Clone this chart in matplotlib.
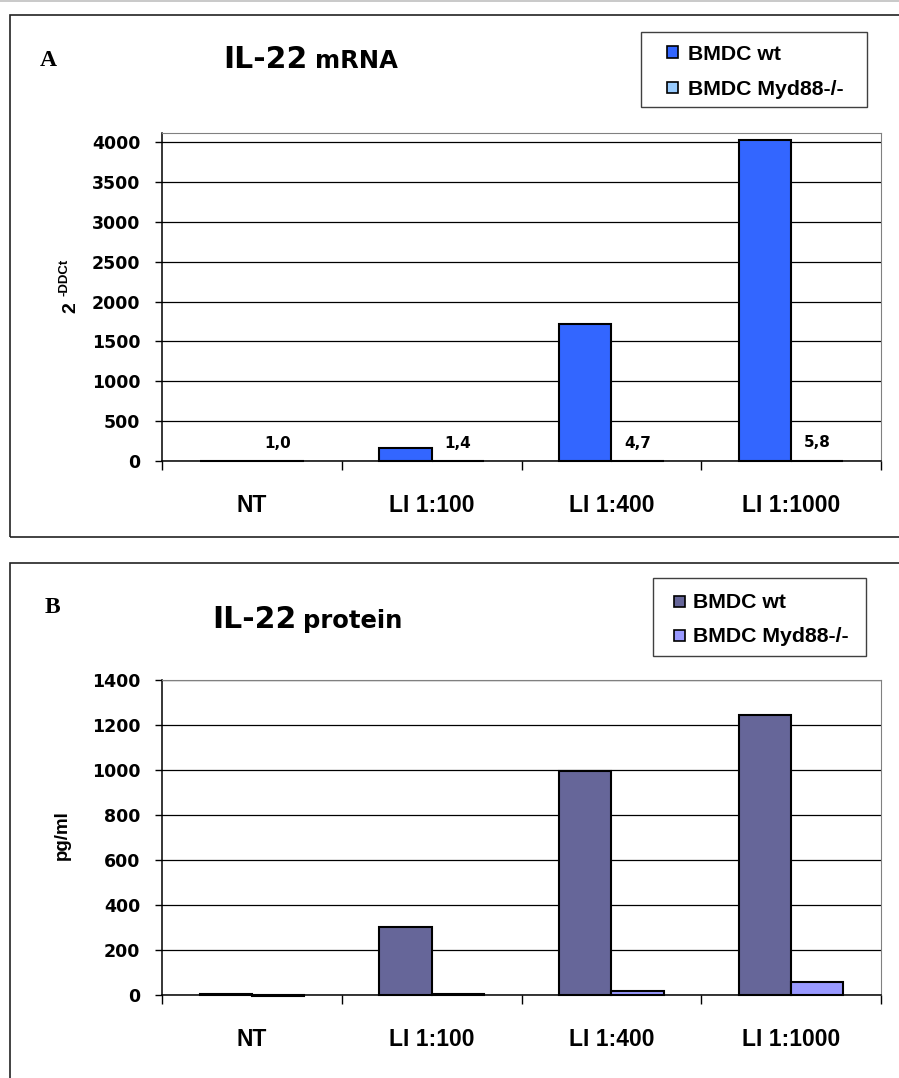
import matplotlib
matplotlib.use("Agg")
import matplotlib.pyplot as plt
from matplotlib.patches import Rectangle
from matplotlib.lines import Line2D
import numpy as np

# ---------------- data ----------------
categories = ['NT', 'LI 1:100', 'LI 1:400', 'LI 1:1000']
series_names = ['BMDC wt', 'BMDC Myd88-/-']
mrna_wt = [1, 168, 1721, 4020]
mrna_myd = [1.0, 1.4, 4.7, 5.8]
mrna_labels = ['1,0', '1,4', '4,7', '5,8']
protein_wt = [5, 301, 994, 1244]
protein_myd = [-5, 3, 18, 56]
mrna_yticks = [0, 500, 1000, 1500, 2000, 2500, 3000, 3500, 4000]
protein_yticks = [0, 200, 400, 600, 800, 1000, 1200, 1400]

W, H = 899, 1078
fig = plt.figure(figsize=(W / 100, H / 100), dpi=100)

def fx(px):
    return px / W

def fy(py):
    return 1 - py / H

SANS = ['Liberation Sans', 'DejaVu Sans']
VER = ['DejaVu Sans']
SERIF = ['Liberation Serif', 'DejaVu Serif']

# outer frames and top rule
fig.add_artist(Line2D([0, 1], [fy(0.5), fy(0.5)], transform=fig.transFigure,
                      color='#c0c0c0', lw=1.2))
for (y0, y1) in [(15, 537), (563, 1090)]:
    fig.add_artist(Rectangle((fx(10), fy(y1)), fx(905) - fx(10), fy(y0) - fy(y1),
                             transform=fig.transFigure, fill=False,
                             edgecolor='#222222', lw=1.2))

def draw_legend(colors, box, sq_x, text_x, rows_y):
    x0, y0, x1, y1 = box
    fig.add_artist(Rectangle((fx(x0), fy(y1)), fx(x1) - fx(x0), fy(y0) - fy(y1),
                             transform=fig.transFigure, facecolor='white',
                             edgecolor='#404040', lw=1.0, zorder=5))
    sq = 11
    for c, name, ry in zip(colors, series_names, rows_y):
        fig.add_artist(Rectangle((fx(sq_x), fy(ry + sq / 2)), sq / W, sq / H,
                                 transform=fig.transFigure, facecolor=c,
                                 edgecolor='black', lw=1.2, zorder=6))
        fig.text(fx(text_x), fy(ry), name, ha='left', va='center_baseline',
                 fontfamily=SANS, fontweight='bold', fontsize=15.3, zorder=6)

def make_panel(rect, wt, myd, yticks, ylim, colors, data_labels=None):
    ax = fig.add_axes(rect)
    x = np.arange(len(categories))
    bw = 0.29
    b1 = ax.bar(x - bw / 2, wt, bw, color=colors[0], edgecolor='black',
                lw=1.5, zorder=3, label=series_names[0])
    b2 = ax.bar(x + bw / 2, myd, bw, color=colors[1], edgecolor='black',
                lw=1.5, zorder=3, label=series_names[1])
    for b in list(b1) + list(b2):
        b.set_clip_on(False)
    ax.set_xlim(-0.5, len(categories) - 0.5)
    ax.set_ylim(*ylim)
    ax.set_yticks(yticks)
    ax.set_yticklabels([str(t) for t in yticks])
    ax.yaxis.grid(True, color='black', lw=0.9, zorder=0)
    ax.set_axisbelow(True)
    ax.set_xticks(np.arange(len(categories) + 1) - 0.5)
    ax.set_xticklabels([])
    ax.set_xticks(x, minor=True)
    ax.set_xticklabels(categories, minor=True)
    ax.tick_params(axis='x', which='major', direction='out', length=6.5,
                   width=1, color='black')
    ax.tick_params(axis='x', which='minor', length=0, pad=24)
    ax.tick_params(axis='y', direction='out', length=5, width=1, pad=10.5,
                   color='black')
    for lbl in ax.get_xticklabels(minor=True):
        lbl.set_fontfamily(SANS)
        lbl.set_fontweight('bold')
        lbl.set_fontsize(16.5)
    for lbl in ax.get_yticklabels():
        lbl.set_fontfamily(VER)
        lbl.set_fontweight('bold')
        lbl.set_fontsize(12.5)
    ax.spines['left'].set_color('black')
    ax.spines['bottom'].set_color('black')
    ax.spines['left'].set_linewidth(1.1)
    ax.spines['bottom'].set_linewidth(1.1)
    ax.spines['top'].set_color('#808080')
    ax.spines['right'].set_color('#808080')
    if data_labels is not None:
        for xi, v, t in zip(x, myd, data_labels):
            ax.annotate(t, (xi + bw / 2, max(v, 0)), xytext=(0, 9.4),
                        textcoords='offset points', ha='center', va='baseline',
                        fontfamily=VER, fontweight='bold', fontsize=11)
    return ax

def title(parts, letter, letter_xy):
    for (txt, px, py, size) in parts:
        fig.text(fx(px), fy(py), txt, ha='left', va='baseline',
                 fontfamily=VER, fontweight='bold', fontsize=size)
    fig.text(fx(letter_xy[0]), fy(letter_xy[1]), letter, ha='left',
             va='baseline', fontfamily=SERIF, fontweight='bold', fontsize=17)

# ---------------- panel A ----------------
mrna_colors = ['#3366FF', '#99CCFF']
make_panel([fx(162), fy(461), (881 - 162) / W, (461 - 133) / H],
           mrna_wt, mrna_myd, mrna_yticks, (0, 4113), mrna_colors,
           data_labels=mrna_labels)
draw_legend(mrna_colors, (641, 32, 867, 107), 667, 688, (52, 87.5))
title([('IL-22', 223, 68, 21.5), ('mRNA', 315, 68, 17.5)], 'A', (40, 66))
fig.text(fx(71), fy(313), '2', rotation=90, ha='center', va='bottom',
         fontfamily=SANS, fontweight='bold', fontsize=14)
fig.text(fx(65), fy(296), '-DDCt', rotation=90, ha='center', va='bottom',
         fontfamily=SANS, fontweight='bold', fontsize=9.5)

# ---------------- panel B ----------------
prot_colors = ['#666699', '#9999FF']
make_panel([fx(162), fy(995), (881 - 162) / W, (995 - 680) / H],
           protein_wt, protein_myd, protein_yticks, (0, 1400), prot_colors)
draw_legend(prot_colors, (653, 578, 866, 656), 674, 693, (601, 635))
title([('IL-22', 212, 628, 21.5), ('protein', 303, 628, 17.5)], 'B', (45, 613))
fig.text(fx(62), fy(835), 'pg/ml', rotation=90, ha='center', va='center',
         fontfamily=SANS, fontweight='bold', fontsize=13.5)

fig.savefig('out.png', dpi=100)
